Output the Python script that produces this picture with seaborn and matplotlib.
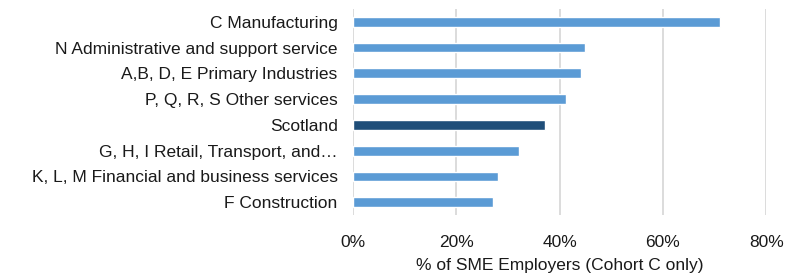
import seaborn as sns
import pandas as pd
import matplotlib.pyplot as plt
from matplotlib.ticker import PercentFormatter

# Dados
sectors = ['C Manufacturing',
           'N Administrative and support service',
           'A,B, D, E Primary Industries',
           'P, Q, R, S Other services',
           'Scotland',
           'G, H, I Retail, Transport, and\u2026',
           'K, L, M Financial and business services',
           'F Construction']
share = [71.1, 45.0, 44.2, 41.2, 37.2, 32.2, 28.0, 27.2]

df = pd.DataFrame({'sector': sectors, 'share': share})
colors = {s: ('#1F4E79' if s == 'Scotland' else '#5B9BD5') for s in sectors}

sns.set_style('white')
plt.rcParams['font.family'] = ['Liberation Sans', 'DejaVu Sans']

fig = plt.figure(figsize=(7.86, 2.79), dpi=100)
ax = fig.add_axes([0.449, 0.229, 0.526, 0.739])

sns.barplot(data=df, x='share', y='sector', hue='sector', palette=colors,
            orient='h', width=0.38, saturation=1, legend=False, ax=ax)

ax.set_xlim(0, 80)
ax.set_xticks([0, 20, 40, 60, 80])
ax.xaxis.set_major_formatter(PercentFormatter(decimals=0))
ax.grid(axis='x', color='#D9D9D9', linewidth=1.3)
ax.set_axisbelow(True)
for sp in ax.spines.values():
    sp.set_visible(False)
ax.tick_params(axis='both', length=0, labelsize=12.5, colors='#1a1a1a')
ax.tick_params(axis='y', pad=11)
ax.tick_params(axis='x', pad=14)
ax.set_ylabel('')
ax.set_xlabel('% of SME Employers (Cohort C only)', fontsize=12.5, color='#1a1a1a', labelpad=6)

fig.savefig('out.png', dpi=100)
